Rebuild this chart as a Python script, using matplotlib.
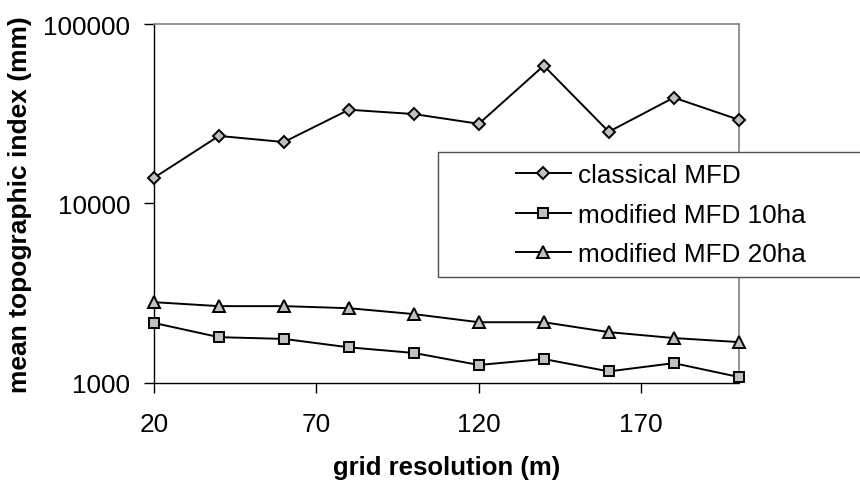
import matplotlib
matplotlib.use("Agg")
import matplotlib.pyplot as plt
from matplotlib.patches import Rectangle

plt.rcParams['font.family'] = ['Liberation Sans', 'DejaVu Sans']

# grid resolution (m) and mean topographic index (mm) per method
resolution = [20, 40, 60, 80, 100, 120, 140, 160, 180, 200]
classical_mfd = [13900, 23800, 22000, 33300, 31500, 27800, 58600, 25100, 38900, 29300]
mfd_10ha = [2160, 1800, 1760, 1580, 1470, 1260, 1360, 1160, 1290, 1080]
mfd_20ha = [2820, 2680, 2680, 2610, 2420, 2180, 2180, 1920, 1780, 1690]

xticks = [20, 70, 120, 170]
yticks = [1000, 10000, 100000]

fig = plt.figure(figsize=(8.6, 4.81), dpi=100)
ax = fig.add_axes([0.179, 0.2017, 0.680, 0.7463])

style = dict(color='black', lw=1.4, mfc='#c0c0c0', mec='black', mew=1.4, clip_on=False, zorder=3)
ax.plot(resolution, classical_mfd, marker='D', ms=6.3, label='classical MFD', **style)
ax.plot(resolution, mfd_10ha, marker='s', ms=7.8, label='modified MFD 10ha', **style)
ax.plot(resolution, mfd_20ha, marker='^', ms=9, label='modified MFD 20ha', **style)

ax.set_yscale('log')
ax.set_ylim(1000, 100000)
ax.set_xlim(20, 200)
ax.set_yticks(yticks)
ax.set_yticklabels([str(v) for v in yticks])
ax.yaxis.set_minor_locator(matplotlib.ticker.NullLocator())
ax.set_xticks(xticks)
ax.set_xticklabels([str(v) for v in xticks])

ax.tick_params(axis='both', direction='out', length=7, width=1, labelsize=18.8, colors='black')
ax.tick_params(axis='x', pad=14)
ax.tick_params(axis='y', pad=10)

for side in ['left', 'bottom']:
    ax.spines[side].set_color('black')
    ax.spines[side].set_linewidth(1)
for side in ['top', 'right']:
    ax.spines[side].set_color('#808080')
    ax.spines[side].set_linewidth(1.2)

ax.set_xlabel('grid resolution (m)', fontsize=18.5, fontweight='bold', labelpad=13.5)
ax.set_ylabel('mean topographic index (mm)', fontsize=19, fontweight='bold', labelpad=8)

# legend box runs off the right edge of the figure
box = Rectangle((438 / 860, 1 - 278 / 481), 0.6, 125 / 481, transform=fig.transFigure,
                facecolor='white', edgecolor='#505050', lw=1, zorder=5)
fig.add_artist(box)
leg = fig.legend(loc='upper left', bbox_to_anchor=(0.6, 1 - 164 / 481), frameon=False,
                 fontsize=18.8, handlelength=2.1, handletextpad=0.27, labelspacing=0.6,
                 borderaxespad=0, borderpad=0)
leg.set_zorder(6)

fig.savefig('out.png', dpi=100)
